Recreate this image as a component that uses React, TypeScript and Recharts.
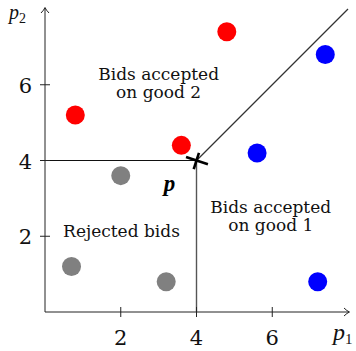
import React from "react";
import { ScatterChart, Scatter, XAxis, YAxis, ReferenceLine, ReferenceDot } from "recharts";

// bids, coloured by outcome at price p = (4, 4)
const acceptedGood2 = [
  { x: 0.8, y: 5.2 },
  { x: 3.6, y: 4.4 },
  { x: 4.8, y: 7.4 },
];
const acceptedGood1 = [
  { x: 5.6, y: 4.2 },
  { x: 7.4, y: 6.8 },
  { x: 7.2, y: 0.8 },
];
const rejected = [
  { x: 2.0, y: 3.6 },
  { x: 0.7, y: 1.2 },
  { x: 3.2, y: 0.8 },
];
const ticks = [2, 4, 6];
const priceP = { x: 4, y: 4 };
const axisMax = 8;

const regionLabels = [
  { x: 3.0, y: 6.12, text: "Bids accepted" },
  { x: 3.0, y: 5.64, text: "on good 2" },
  { x: 5.96, y: 2.62, text: "Bids accepted" },
  { x: 5.96, y: 2.14, text: "on good 1" },
  { x: 2.02, y: 1.97, text: "Rejected bids" },
];

const SERIF = "'DejaVu Serif', 'Liberation Serif', serif";
const MATH = "'Liberation Serif', 'DejaVu Serif', serif";

const dot = (fill: string) => (p: any) => <circle cx={p.cx} cy={p.cy} r={9.5} fill={fill} />;

function XTick(props: any) {
  const { x, y, payload } = props;
  return (
    <g>
      <line x1={x} x2={x} y1={y - 5} y2={y + 5} stroke="#222" strokeWidth={1} />
      <text x={x} y={y + 33} textAnchor="middle" fontFamily={SERIF} fontSize={21} fill="#111">
        {payload.value}
      </text>
    </g>
  );
}

function YTick(props: any) {
  const { x, y, payload } = props;
  return (
    <g>
      <line x1={x - 5} x2={x + 5} y1={y} y2={y} stroke="#222" strokeWidth={1} />
      <text x={x - 13} y={y + 8} textAnchor="end" fontFamily={SERIF} fontSize={21} fill="#111">
        {payload.value}
      </text>
    </g>
  );
}

function XAxisArrow(p: any) {
  const { x1, y1, x2, y2 } = p;
  return (
    <g>
      <line x1={x1} y1={y1} x2={x2 + 1} y2={y2} stroke="#222" strokeWidth={1} />
      <path d={`M${x2 - 4},${y2 - 4} Q${x2 - 1},${y2 - 1} ${x2 + 1.5},${y2} Q${x2 - 1},${y2 + 1} ${x2 - 4},${y2 + 4}`} fill="none" stroke="#222" strokeWidth={1} />
      <text x={x2 - 15} y={y2 + 28} fontFamily={MATH} fontStyle="italic" fontSize={24} fill="#111">
        p<tspan fontStyle="normal" fontSize={15} dy={4}>1</tspan>
      </text>
    </g>
  );
}

function YAxisArrow(p: any) {
  const { x1, y1, x2, y2 } = p;
  const top = Math.min(y1, y2);
  const bottom = Math.max(y1, y2);
  return (
    <g>
      <line x1={x1} y1={bottom} x2={x2} y2={top - 1} stroke="#222" strokeWidth={1} />
      <path d={`M${x1 - 4},${top + 4} Q${x1 - 1},${top + 1} ${x1},${top - 1.5} Q${x1 + 1},${top + 1} ${x1 + 4},${top + 4}`} fill="none" stroke="#222" strokeWidth={1} />
      <text x={x1 - 36} y={top + 10} fontFamily={MATH} fontStyle="italic" fontSize={20} fill="#111">
        p<tspan fontStyle="normal" fontSize={14} dy={4}>2</tspan>
      </text>
    </g>
  );
}

function PriceMark(p: any) {
  const { cx, cy } = p;
  return (
    <g>
      <g transform={`translate(${cx},${cy}) rotate(18)`}>
        <line x1={-11} y1={0} x2={12} y2={0} stroke="#000" strokeWidth={2.6} />
        <line x1={0} y1={-8} x2={0} y2={9} stroke="#000" strokeWidth={2.6} />
      </g>
      <text x={cx - 27} y={cy + 30} textAnchor="middle" fontFamily={MATH} fontStyle="italic" fontWeight="bold" fontSize={23} fill="#000">
        p
      </text>
    </g>
  );
}

export default function App() {
  return (
    <div style={{ position: "absolute", left: 0, top: 0, background: "#fff" }}>
      <ScatterChart width={356} height={351} margin={{ top: 9, right: 8, bottom: 38, left: 44 }}>
        <XAxis
          type="number"
          dataKey="x"
          domain={[0, axisMax]}
          ticks={ticks}
          interval={0}
          height={1}
          axisLine={false}
          tickLine={false}
          tickSize={0}
          tickMargin={0}
          tick={<XTick />}
          allowDataOverflow
        />
        <YAxis
          type="number"
          dataKey="y"
          domain={[0, axisMax]}
          ticks={ticks}
          interval={0}
          width={1}
          axisLine={false}
          tickLine={false}
          tickSize={0}
          tickMargin={0}
          tick={<YTick />}
          allowDataOverflow
        />

        <ReferenceLine segment={[{ x: 0, y: 0 }, { x: axisMax, y: 0 }]} shape={XAxisArrow} ifOverflow="visible" />
        <ReferenceLine segment={[{ x: 0, y: 0 }, { x: 0, y: axisMax }]} shape={YAxisArrow} ifOverflow="visible" />

        <ReferenceLine segment={[{ x: 0, y: priceP.y }, priceP]} stroke="#111" strokeWidth={1.2} ifOverflow="visible" />
        <ReferenceLine segment={[{ x: priceP.x, y: 0 }, priceP]} stroke="#555" strokeWidth={1.4} ifOverflow="visible" />
        <ReferenceLine segment={[priceP, { x: axisMax, y: axisMax }]} stroke="#333" strokeWidth={1.2} ifOverflow="visible" />

        {regionLabels.map((l, i) => (
          <ReferenceDot
            key={i}
            x={l.x}
            y={l.y}
            ifOverflow="visible"
            shape={(p: any) => (
              <text x={p.cx} y={p.cy} textAnchor="middle" fontFamily={SERIF} fontSize={17} fill="#111">
                {l.text}
              </text>
            )}
          />
        ))}

        <Scatter data={acceptedGood2} fill="#ff0000" shape={dot("#ff0000")} isAnimationActive={false} />
        <Scatter data={acceptedGood1} fill="#0000ff" shape={dot("#0000ff")} isAnimationActive={false} />
        <Scatter data={rejected} fill="#808080" shape={dot("#808080")} isAnimationActive={false} />

        <ReferenceDot x={priceP.x} y={priceP.y} ifOverflow="visible" shape={PriceMark} />
      </ScatterChart>
    </div>
  );
}
